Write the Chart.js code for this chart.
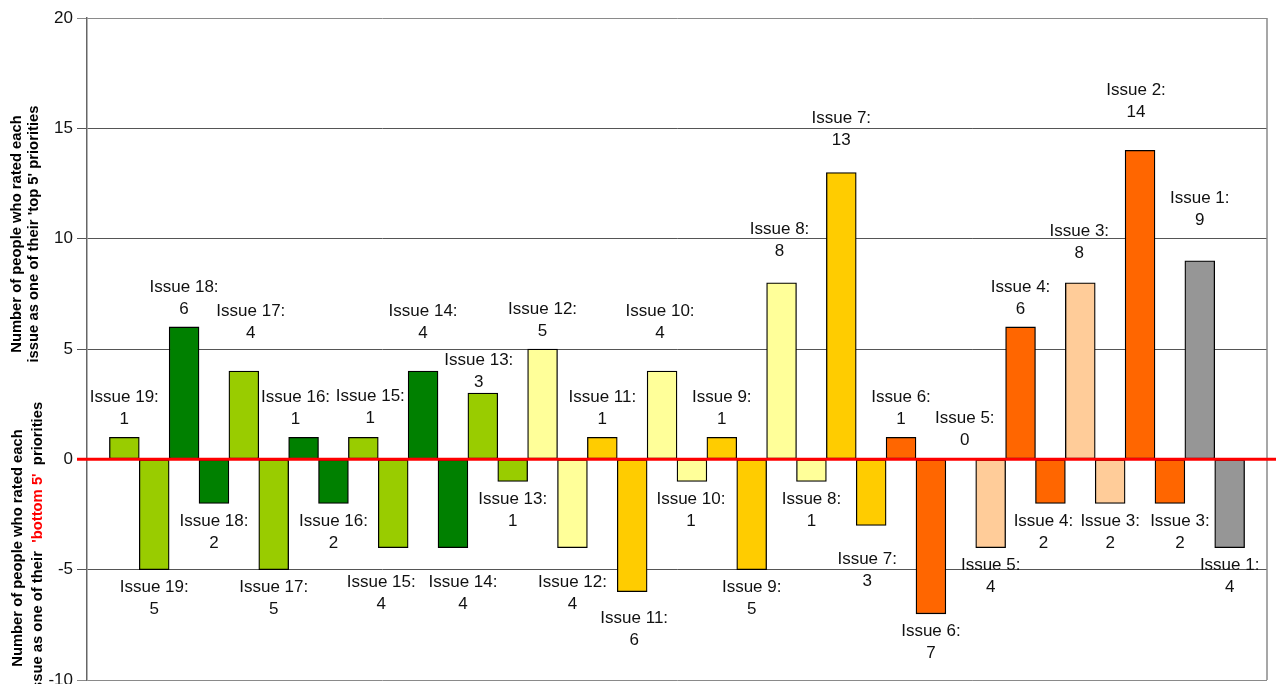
<!DOCTYPE html>
<html>
<head>
<meta charset="utf-8">
<title>Issue priorities: top 5 vs bottom 5</title>
<script src="https://cdn.jsdelivr.net/npm/chart.js@4.4.1/dist/chart.umd.min.js"></script>
<style>
  html, body { margin: 0; padding: 0; background: #ffffff; }
  #wrap { width: 1276px; height: 684px; }
</style>
</head>
<body>
<div id="wrap"><canvas id="chart" width="1276" height="684"></canvas></div>
<script>
// Issues in plotting order (left to right)
const issues = ['Issue 19', 'Issue 18', 'Issue 17', 'Issue 16', 'Issue 15', 'Issue 14', 'Issue 13',
                'Issue 12', 'Issue 11', 'Issue 10', 'Issue 9', 'Issue 8', 'Issue 7', 'Issue 6',
                'Issue 5', 'Issue 4', 'Issue 3', 'Issue 2', 'Issue 1'];

// People who put the issue in their 'top 5'
const topCounts = [1, 6, 4, 1, 1, 4, 3, 5, 1, 4, 1, 8, 13, 1, 0, 6, 8, 14, 9];

// People who put the issue in their 'bottom 5' (drawn below zero)
const bottomCounts = [5, 2, 5, 2, 4, 4, 1, 4, 6, 1, 5, 1, 3, 7, 4, 2, 2, 2, 4];

// Names printed under the 'bottom 5' bars
const bottomNames = ['Issue 19', 'Issue 18', 'Issue 17', 'Issue 16', 'Issue 15', 'Issue 14', 'Issue 13',
                     'Issue 12', 'Issue 11', 'Issue 10', 'Issue 9', 'Issue 8', 'Issue 7', 'Issue 6',
                     'Issue 5', 'Issue 4', 'Issue 3', 'Issue 3', 'Issue 1'];

// Fill colour of each issue's pair of bars
const issueColors = ['#99CC00', '#008000', '#99CC00', '#008000', '#99CC00', '#008000', '#99CC00',
                     '#FFFF99', '#FFCC00', '#FFFF99', '#FFCC00', '#FFFF99', '#FFCC00', '#FF6600',
                     '#FFCC99', '#FF6600', '#FFCC99', '#FF6600', '#969696'];

// Y axis range and tick step
const yMin = -10, yMax = 20, yStep = 5;

// Hand placement of the value labels: [dx, dy] in pixels
const topNudge = [[0, 0], [0, 0], [7, -20], [-8, 0], [7, -1], [0, -20], [-4, 7],
                  [0, 0], [0, 0], [-2, -20], [0, 0], [-2, -13], [0, -14], [0, 0],
                  [4, -1], [0, 0], [-1, -11], [-4, -20], [0, -22]];
const bottomNudge = [[0, 0], [0, 0], [0, 0], [0, 0], [-12, 17], [10, 17], [0, 0],
                     [0, 17], [2, 9], [-1, 0], [0, 0], [0, 0], [-4, 16], [0, 0],
                     [0, 0], [-7, 0], [0, 0], [10, 0], [0, 0]];

const FONT = '"Liberation Sans", Arial, Helvetica, sans-serif';

// Red zero line across the whole plot, drawn over the bars
const zeroLine = {
  id: 'zeroLine',
  afterDatasetsDraw(chart) {
    const { ctx, chartArea } = chart;
    const y0 = chart.scales.y.getPixelForValue(0);
    ctx.save();
    ctx.strokeStyle = '#FF0000';
    ctx.lineWidth = 3;
    ctx.beginPath();
    ctx.moveTo(chartArea.left - 10, y0);
    ctx.lineTo(chart.width, y0);
    ctx.stroke();
    ctx.restore();
  }
};

// Right edge of the plot frame
const frameRight = {
  id: 'frameRight',
  beforeDatasetsDraw(chart) {
    const { ctx, chartArea } = chart;
    ctx.save();
    ctx.strokeStyle = '#8a8a8a';
    ctx.lineWidth = 1.5;
    ctx.beginPath();
    ctx.moveTo(chartArea.right, chartArea.top);
    ctx.lineTo(chartArea.right, chartArea.bottom);
    ctx.stroke();
    ctx.restore();
  }
};

// Two-line "Issue N:" / count labels above and below each bar
const issueLabels = {
  id: 'issueLabels',
  afterDraw(chart) {
    const { ctx } = chart;
    const xs = chart.scales.x, ys = chart.scales.y;
    ctx.save();
    ctx.font = '17px ' + FONT;
    ctx.fillStyle = '#111111';
    ctx.textAlign = 'center';
    ctx.textBaseline = 'middle';
    issues.forEach((name, i) => {
      const [tdx, tdy] = topNudge[i];
      const tx = xs.getPixelForValue(2 * i) + tdx;
      const ty = ys.getPixelForValue(topCounts[i]) - 18 + tdy;
      ctx.fillText(name + ':', tx, ty - 22);
      ctx.fillText(String(topCounts[i]), tx, ty);

      const [bdx, bdy] = bottomNudge[i];
      const bx = xs.getPixelForValue(2 * i + 1) + bdx;
      const by = ys.getPixelForValue(-bottomCounts[i]) + 18 + bdy;
      ctx.fillText(bottomNames[i] + ':', bx, by);
      ctx.fillText(String(bottomCounts[i]), bx, by + 22);
    });
    ctx.restore();
  }
};

// Rotated two-part axis title on the left
function drawVertical(ctx, segments, cx, cy) {
  ctx.save();
  ctx.translate(cx, cy);
  ctx.rotate(-Math.PI / 2);
  ctx.textAlign = 'left';
  ctx.textBaseline = 'middle';
  const total = segments.reduce((w, s) => w + ctx.measureText(s.text).width, 0);
  let x = -total / 2;
  segments.forEach(s => {
    ctx.fillStyle = s.color;
    ctx.fillText(s.text, x, 0);
    x += ctx.measureText(s.text).width;
  });
  ctx.restore();
}

const axisTitles = {
  id: 'axisTitles',
  afterDraw(chart) {
    const { ctx } = chart;
    ctx.save();
    ctx.font = 'bold 14.8px ' + FONT;
    drawVertical(ctx, [{ text: 'Number of people who rated each', color: '#000' }], 16.5, 234);
    drawVertical(ctx, [{ text: "issue as one of their 'top 5' priorities", color: '#000' }], 33.5, 234);
    drawVertical(ctx, [{ text: 'Number of people who rated each', color: '#000' }], 17.5, 548);
    drawVertical(ctx, [
      { text: 'issue as one of their  ', color: '#000' },
      { text: "'bottom 5'", color: '#FF0000' },
      { text: '  priorities', color: '#000' }
    ], 37.5, 548);
    ctx.restore();
  }
};

new Chart(document.getElementById('chart'), {
  type: 'bar',
  data: {
    datasets: [
      {
        label: "Top 5",
        data: issues.map((_, i) => ({ x: 2 * i, y: topCounts[i] })),
        backgroundColor: issueColors
      },
      {
        label: "Bottom 5",
        data: issues.map((_, i) => ({ x: 2 * i + 1, y: -bottomCounts[i] })),
        backgroundColor: issueColors
      }
    ]
  },
  options: {
    responsive: false,
    animation: false,
    layout: { padding: { left: 0, top: 18, right: 9, bottom: 4 } },
    plugins: {
      legend: { display: false },
      tooltip: { enabled: false }
    },
    datasets: {
      bar: {
        grouped: false,
        barPercentage: 1,
        categoryPercentage: 1,
        borderColor: '#000000',
        borderWidth: 1.3,
        borderSkipped: false
      }
    },
    scales: {
      x: {
        type: 'linear',
        min: -1.25,
        max: 38.25,
        offset: false,
        display: false
      },
      y: {
        min: yMin,
        max: yMax,
        ticks: {
          stepSize: yStep,
          padding: 4,
          color: '#111111',
          font: { family: FONT, size: 17 }
        },
        grid: {
          color: c => (c.tick && (c.tick.value === yMin || c.tick.value === yMax)) ? '#8a8a8a' : '#555555',
          lineWidth: 1,
          tickLength: 10,
          drawTicks: true
        },
        border: { color: '#666666', width: 1.5 },
        afterFit(scale) {
          scale.width = 87;
          scale.paddingTop = 0;
          scale.paddingBottom = 0;
        }
      }
    }
  },
  plugins: [frameRight, zeroLine, issueLabels, axisTitles]
});
</script>
</body>
</html>
